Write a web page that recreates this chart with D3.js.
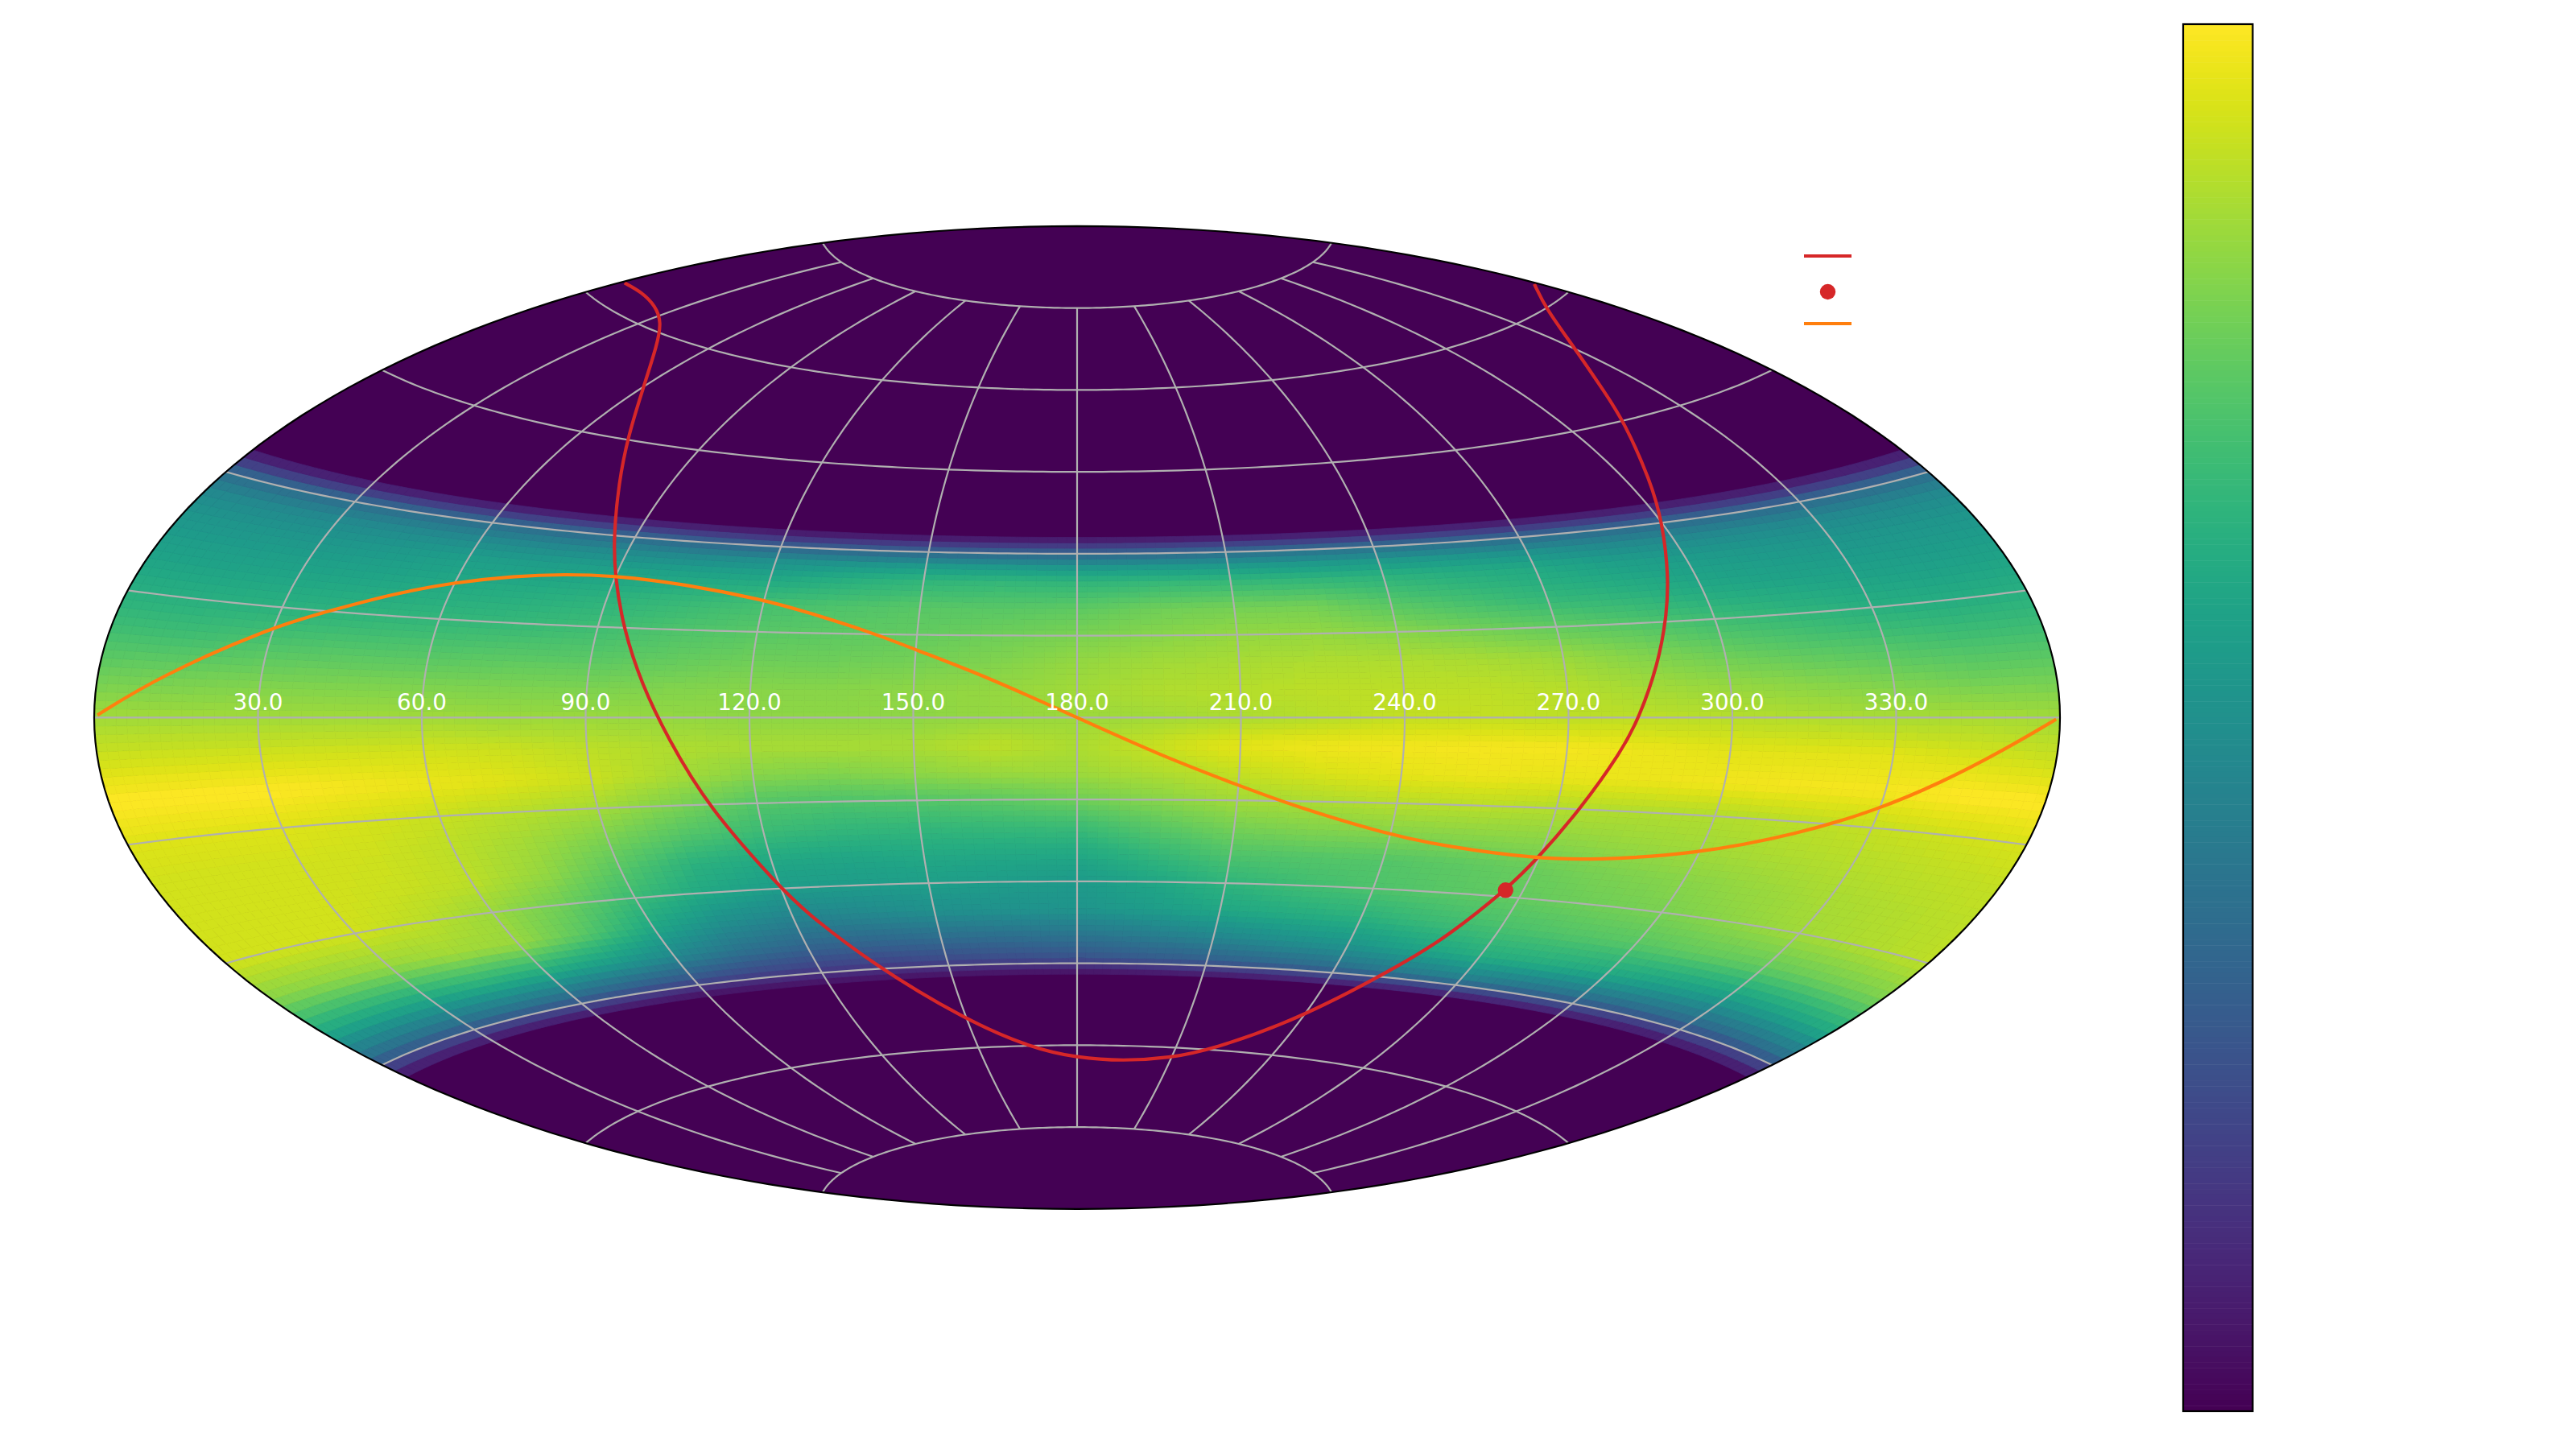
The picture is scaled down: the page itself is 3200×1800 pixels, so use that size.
<!DOCTYPE html>
<html><head><meta charset="utf-8">
<script src="https://cdn.jsdelivr.net/npm/d3@7/dist/d3.min.js"></script>
<style>html,body{margin:0;background:#fff}svg{display:block}</style></head>
<body><svg id="c" width="3200" height="1800"></svg>
<script>
// ---- data ----
const gridLons = [0,15,30,45,60,75,90,105,120,135,150,165,180,195,210,225,240,255,270,285,300,315,330,345,360];
const gridLats = [90,33.5,32,30,27.5,25,20,15,10,5,0,-5,-10,-15,-20,-25,-30,-35,-40,-44,-46,-47.5,-90];
const zeros = gridLons.map(() => 0);
const heatRows = [
 zeros,
 zeros,
 [.14,.14,.14,.14,.14,.14,.14,.13,.12,.12,.12,.12,.12,.13,.14,.14,.14,.14,.13,.13,.13,.13,.13,.14,.14],
 [.36,.36,.36,.36,.36,.35,.35,.33,.32,.32,.33,.33,.33,.34,.36,.37,.37,.36,.35,.35,.35,.35,.35,.36,.36],
 [.47,.47,.47,.47,.47,.47,.48,.48,.50,.52,.54,.54,.53,.54,.54,.54,.54,.53,.51,.48,.47,.47,.47,.47,.47],
 [.52,.52,.52,.53,.55,.55,.56,.57,.58,.62,.65,.66,.65,.66,.66,.65,.64,.62,.60,.56,.54,.53,.52,.52,.52],
 [.57,.57,.58,.59,.61,.62,.64,.67,.70,.72,.74,.74,.75,.78,.79,.79,.74,.70,.66,.64,.60,.58,.57,.56,.57],
 [.63,.63,.64,.65,.66,.67,.69,.72,.74,.75,.76,.78,.80,.82,.84,.84,.82,.79,.76,.73,.69,.66,.63,.62,.63],
 [.70,.70,.72,.73,.73,.74,.74,.76,.78,.78,.79,.81,.84,.86,.87,.88,.88,.87,.85,.81,.77,.74,.72,.70,.70],
 [.78,.79,.80,.80,.80,.80,.80,.81,.82,.82,.83,.84,.86,.88,.89,.90,.90,.90,.89,.86,.84,.82,.80,.78,.78],
 [.86,.86,.86,.86,.86,.85,.85,.84,.83,.83,.83,.84,.85,.86,.875,.89,.91,.91,.90,.90,.89,.88,.87,.87,.86],
 [.93,.93,.93,.93,.93,.92,.90,.88,.87,.87,.87,.90,.875,.92,.96,.975,.98,.985,.985,.97,.955,.955,.955,.94,.92],
 [1,1,1,.985,.97,.95,.92,.87,.82,.81,.83,.85,.855,.88,.91,.94,.96,.97,.965,.97,.98,.985,.985,1,1],
 [.95,.95,.95,.935,.915,.89,.865,.80,.73,.72,.73,.75,.78,.82,.86,.875,.89,.895,.885,.88,.88,.895,.91,.925,.94],
 [.93,.93,.93,.925,.90,.86,.80,.73,.68,.66,.66,.67,.68,.74,.79,.81,.82,.825,.83,.845,.86,.875,.89,.90,.91],
 [.93,.93,.93,.92,.90,.84,.74,.64,.60,.59,.60,.60,.60,.66,.72,.73,.73,.75,.77,.80,.82,.845,.87,.885,.90],
 [.93,.93,.93,.90,.85,.78,.68,.60,.55,.55,.56,.55,.54,.59,.65,.69,.72,.74,.76,.78,.80,.83,.86,.88,.90],
 [.82,.83,.84,.86,.85,.74,.60,.50,.45,.47,.50,.51,.52,.55,.59,.62,.64,.68,.71,.73,.74,.76,.76,.78,.80],
 [.60,.60,.60,.62,.60,.55,.47,.38,.33,.33,.35,.36,.38,.41,.45,.49,.52,.57,.62,.62,.60,.57,.55,.57,.60],
 [.36,.36,.36,.36,.34,.30,.26,.22,.20,.20,.22,.23,.25,.28,.30,.33,.36,.40,.42,.38,.36,.34,.33,.34,.36],
 [.14,.14,.14,.14,.14,.12,.09,.09,.09,.09,.09,.09,.09,.11,.13,.14,.16,.16,.16,.16,.16,.14,.14,.14,.14],
 zeros,
 zeros
];
const tickLons = [30,60,90,120,150,180,210,240,270,300,330];
const tickLabels = ["30.0","60.0","90.0","120.0","150.0","180.0","210.0","240.0","270.0","300.0","330.0"];
const parallels = [-75,-60,-45,-30,-15,0,15,30,45,60,75];
const orangeLon = [0.6,11.3,29.6,38.8,49.8,59.8,70.5,80.0,90.0,103.4,120.1,128.2,141.5,149.9,162.0,179.6,195.1,210.1,220.6,239.1,251.5,269.6,280.5,299.4,316.9,329.5,339.9,350.1,359.3];
const orangeLat = [0.3,5.1,12.3,15.0,18.3,20.6,22.3,23.2,23.5,22.8,20.6,18.8,15.3,12.3,8.0,0.2,-6.8,-12.3,-15.8,-20.4,-22.2,-23.4,-23.0,-20.9,-16.7,-12.6,-8.4,-4.0,-0.2];
const redLon = [1.1,10.9,23.1,34.3,45.5,60.0,71.4,79.0,85.6,89.9,94.9,100.0,104.9,110.7,119.9,123.0,132.5,149.3,166.0,180.0,194.9,209.5,220.8,239.7,255.6,260.3,266.5,269.8,274.5,280.0,283.0,287.3,291.0,294.8,300.2,304.8,313.7,319.0,330.2,345.4,359.0];
const redLat = [62.5,62.8,62.4,61.2,58.6,52.9,45.4,38.3,29.9,23.3,14.8,5.6,-3.4,-15.5,-29.8,-34.2,-44.0,-54.8,-60.4,-62.3,-62.8,-61.9,-60.0,-53.4,-41.7,-37.0,-28.9,-23.4,-15.0,-5.5,0.1,8.5,15.5,21.8,30.1,36.1,44.9,49.2,55.1,60.0,62.2];
const pointLon = [266.5];
const pointLat = [-28.9];

// ---- projection: Aitoff, centred on longitude 180 ----
function aitoffRaw(l,p){
  const a=Math.acos(Math.cos(p)*Math.cos(l/2));
  const s=a<1e-9?1:Math.sin(a)/a;
  return [2*Math.cos(p)*Math.sin(l/2)/s, Math.sin(p)/s];
}
const projection=d3.geoProjection(aitoffRaw).scale(1221/Math.PI).translate([1338,891.4]).precision(0.1);
const P=(lon,lat)=>projection([lon-180,lat]);
const geo=d3.geoPath(projection);
const line=d3.line();
const smooth=d3.line().curve(d3.curveBasis);

const svg=d3.select("#c");
svg.append("defs").append("clipPath").attr("id","sphere").append("path").attr("d",geo({type:"Sphere"}));
svg.append("path").attr("d",geo({type:"Sphere"})).attr("fill",d3.interpolateViridis(0));

// heat mesh: shaded between the values read at the grid nodes
const lonI=d3.scaleLinear().domain(gridLons).range(gridLons.map((d,i)=>i)).clamp(true);
const latI=d3.scaleLinear().domain(gridLats).range(gridLats.map((d,i)=>i)).clamp(true);
function shade(lon,lat){
  const x=lonI(lon),y=latI(lat);
  const i=Math.min(Math.floor(x),gridLons.length-2),j=Math.min(Math.floor(y),gridLats.length-2);
  const u=x-i,v=y-j,h=heatRows;
  return h[j][i]*(1-u)*(1-v)+h[j][i+1]*u*(1-v)+h[j+1][i]*(1-u)*v+h[j+1][i+1]*u*v;
}
const dLon=2,dLat=1;
const cells=[];
for(const lon of d3.range(0,360,dLon)) for(const lat of d3.range(-48,34,dLat)){
  const t=shade(lon+dLon/2,lat+dLat/2);
  if(t>0.005) cells.push({lon,lat,t});
}
const color=d3.scaleSequential(d3.interpolateViridis).domain([0,1]);
svg.append("g").attr("clip-path","url(#sphere)").selectAll("path").data(cells).join("path")
  .attr("d",c=>{
    const n=4,pts=[];
    for(let k=0;k<=n;k++)pts.push(P(c.lon+dLon*k/n,c.lat));
    for(let k=n;k>=0;k--)pts.push(P(c.lon+dLon*k/n,c.lat+dLat));
    return line(pts)+"Z";
  })
  .attr("fill",c=>color(c.t)).attr("stroke",c=>color(c.t)).attr("stroke-width",0.8);

// grid
const gridG=svg.append("g").attr("fill","none").attr("stroke","#b0b0b0").attr("stroke-width",2.2);
gridG.selectAll("path.m").data(tickLons).join("path").attr("class","m")
  .attr("d",lon=>line(d3.range(-75,75.01,1).map(lat=>P(lon,lat))));
gridG.selectAll("path.p").data(parallels).join("path").attr("class","p")
  .attr("d",lat=>line(d3.range(0,360.01,2).map(lon=>P(lon,lat))));

// curves
const toPts=(a,b)=>a.map((lon,i)=>P(lon,b[i]));
svg.append("path").attr("d",smooth(toPts(redLon,redLat))).attr("fill","none").attr("stroke","#d62728").attr("stroke-width",4.17);
svg.append("path").attr("d",smooth(toPts(orangeLon,orangeLat))).attr("fill","none").attr("stroke","#ff7f0e").attr("stroke-width",4.17);
svg.selectAll("circle.pt").data(pointLon).join("circle").attr("class","pt")
  .attr("cx",(d,i)=>P(d,pointLat[i])[0]).attr("cy",(d,i)=>P(d,pointLat[i])[1]).attr("r",9.7).attr("fill","#d62728");

// outline
svg.append("path").attr("d",geo({type:"Sphere"})).attr("fill","none").attr("stroke","#000").attr("stroke-width",2.2);

// longitude labels
svg.selectAll("text.t").data(tickLons).join("text").attr("class","t")
  .attr("x",lon=>P(lon,0)[0]).attr("y",P(180,0)[1]-9.5).attr("text-anchor","middle")
  .attr("font-family","DejaVu Sans").attr("font-size",27.8).attr("fill","#fff")
  .text((d,i)=>tickLabels[i]);

// legend handles
const lg=svg.append("g");
lg.append("line").attr("x1",2241).attr("x2",2300).attr("y1",318).attr("y2",318).attr("stroke","#d62728").attr("stroke-width",4.17);
lg.append("circle").attr("cx",2270.5).attr("cy",362.5).attr("r",9.7).attr("fill","#d62728");
lg.append("line").attr("x1",2241).attr("x2",2300).attr("y1",402).attr("y2",402).attr("stroke","#ff7f0e").attr("stroke-width",4.17);

// colour bar
const cbVals=d3.range(256).map(i=>i/255).reverse();
const cbY=d3.scaleBand().domain(cbVals).range([30,1753]);
const cb=svg.append("g");
cb.selectAll("rect").data(cbVals).join("rect")
  .attr("x",2712).attr("width",86.4)
  .attr("y",d=>cbY(d)).attr("height",cbY.bandwidth()+0.5)
  .attr("fill",d=>color(d));
cb.append("rect").attr("x",2712).attr("y",30).attr("width",86.4).attr("height",1723)
  .attr("fill","none").attr("stroke","#000").attr("stroke-width",2.2);
</script></body></html>
